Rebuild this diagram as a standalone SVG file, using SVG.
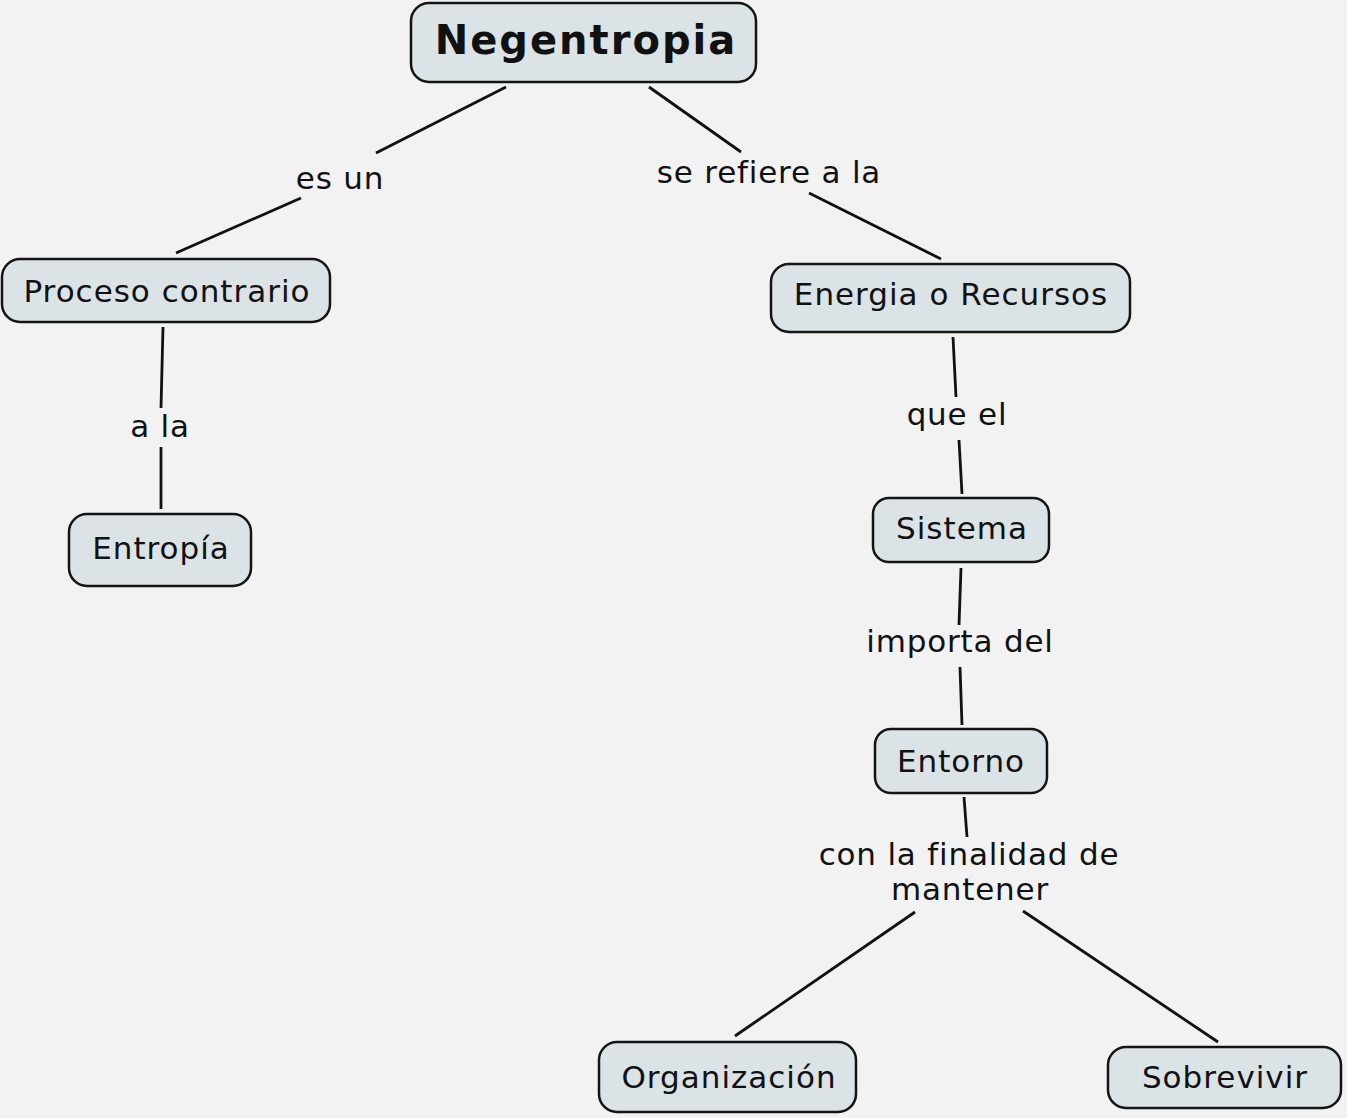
<svg xmlns="http://www.w3.org/2000/svg" width="1347" height="1118" viewBox="0 0 1347 1118">
<style>
.bg{fill:#f2f2f2}
.node rect{fill:#dbe3e6;stroke:#151515;stroke-width:2.5}
.node text{font-family:"DejaVu Sans",Verdana,sans-serif;font-size:31px;letter-spacing:1px;fill:#111;text-anchor:middle}
.node text.title{font-weight:bold;font-size:40px;letter-spacing:2px}
.lbl{font-family:"DejaVu Sans",Verdana,sans-serif;font-size:31px;letter-spacing:0.8px;fill:#111;text-anchor:middle}
#connectors line{stroke:#111;stroke-width:2.8;stroke-linecap:butt}
</style>
<rect class="bg" x="0" y="0" width="1347" height="1118"/>
<g id="connectors">
<line x1="506" y1="87" x2="376" y2="153"/>
<line x1="301" y1="198" x2="176" y2="253"/>
<line x1="649" y1="87" x2="741" y2="152"/>
<line x1="809" y1="193" x2="941" y2="259"/>
<line x1="163" y1="327" x2="161" y2="408"/>
<line x1="161" y1="447" x2="161" y2="509"/>
<line x1="953" y1="337" x2="956" y2="397"/>
<line x1="959" y1="440" x2="962" y2="494"/>
<line x1="961" y1="568" x2="959" y2="625"/>
<line x1="960" y1="667" x2="962" y2="725"/>
<line x1="964" y1="797" x2="967" y2="837"/>
<line x1="915" y1="912" x2="735" y2="1036"/>
<line x1="1023" y1="911" x2="1218" y2="1042"/>
</g>
<g id="labels">
<text class="lbl" x="340" y="189">es un</text>
<text class="lbl" x="769" y="183">se refiere a la</text>
<text class="lbl" x="160" y="437">a la</text>
<text class="lbl" x="957" y="425">que el</text>
<text class="lbl" x="960" y="652">importa del</text>
<text class="lbl" x="969" y="865">con la finalidad de</text>
<text class="lbl" x="970" y="900">mantener</text>
</g>
<g id="n-negentropia" class="node">
<rect x="411" y="3" width="345" height="79" rx="18"/>
<text class="title" x="586" y="54">Negentropia</text>
</g>
<g id="n-proceso" class="node">
<rect x="2" y="259" width="328" height="63" rx="18"/>
<text x="167" y="302">Proceso contrario</text>
</g>
<g id="n-entropia" class="node">
<rect x="69" y="514" width="182" height="72" rx="18"/>
<text x="161" y="559">Entropía</text>
</g>
<g id="n-energia" class="node">
<rect x="771" y="264" width="359" height="68" rx="18"/>
<text x="951" y="305">Energia o Recursos</text>
</g>
<g id="n-sistema" class="node">
<rect x="873" y="498" width="176" height="64" rx="16"/>
<text x="962" y="539">Sistema</text>
</g>
<g id="n-entorno" class="node">
<rect x="875" y="729" width="172" height="64" rx="16"/>
<text x="961" y="772">Entorno</text>
</g>
<g id="n-organizacion" class="node">
<rect x="599" y="1042" width="257" height="70" rx="18"/>
<text x="729" y="1088">Organización</text>
</g>
<g id="n-sobrevivir" class="node">
<rect x="1108" y="1047" width="233" height="61" rx="18"/>
<text x="1225" y="1088">Sobrevivir</text>
</g>
</svg>
